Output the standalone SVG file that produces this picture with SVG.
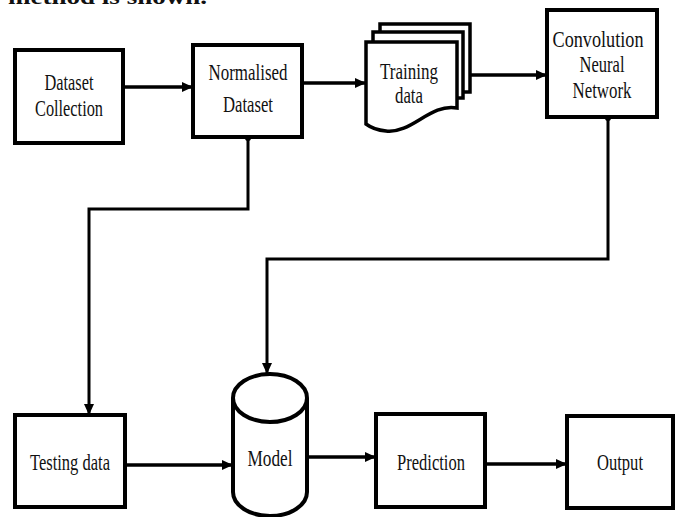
<svg xmlns="http://www.w3.org/2000/svg" width="678" height="517" viewBox="0 0 678 517">
<style>
.box{fill:#fff;stroke:#000;stroke-width:4}
.sheet{fill:#fff;stroke:#000;stroke-width:3.5}
.lbl{font-family:"Liberation Serif","Times New Roman",serif;font-size:23px;fill:#111;text-anchor:middle}
.con{fill:none;stroke:#000;stroke-width:3.5;stroke-linejoin:miter}
.thin{fill:none;stroke:#000;stroke-width:3}
.cap{font-family:"Liberation Serif","Times New Roman",serif;font-size:22px;font-weight:bold;fill:#111}
</style>
<defs>
<marker id="ah" markerUnits="userSpaceOnUse" markerWidth="11" markerHeight="10" refX="11" refY="5" orient="auto">
<path d="M0,0 L11,5 L0,10 Z" fill="#000"/>
</marker>
</defs>
<rect width="678" height="517" fill="#fff"/>
<text class="cap" x="8" y="3.5" textLength="199" lengthAdjust="spacingAndGlyphs">method is shown.</text>

<g id="connectors">
<line class="con" x1="123" y1="87" x2="193" y2="87" marker-end="url(#ah)"/>
<line class="con" x1="302" y1="83" x2="366" y2="83" marker-end="url(#ah)"/>
<line class="con" x1="470" y1="75" x2="547" y2="75" marker-end="url(#ah)"/>
<polyline class="thin" points="248,137 248,209 89,209 89,415" marker-end="url(#ah)"/>
<polyline class="thin" points="608,117 608,259 267,259 267,374" marker-end="url(#ah)"/>
<line class="con" x1="125" y1="465" x2="233" y2="465" marker-end="url(#ah)"/>
<line class="con" x1="308" y1="457" x2="376" y2="457" marker-end="url(#ah)"/>
<line class="con" x1="485" y1="464" x2="567" y2="464" marker-end="url(#ah)"/>
<circle cx="248" cy="138" r="3" fill="#000"/>
<circle cx="608" cy="118" r="3" fill="#000"/>
</g>

<g id="dataset-collection">
<rect class="box" x="15" y="50" width="108" height="93"/>
<text class="lbl" x="69" y="90" textLength="49" lengthAdjust="spacingAndGlyphs">Dataset</text>
<text class="lbl" x="69" y="116" textLength="68" lengthAdjust="spacingAndGlyphs">Collection</text>
</g>

<g id="normalised-dataset">
<rect class="box" x="193" y="45" width="109" height="92"/>
<text class="lbl" x="248" y="80" textLength="79" lengthAdjust="spacingAndGlyphs">Normalised</text>
<text class="lbl" x="248" y="112" textLength="50" lengthAdjust="spacingAndGlyphs">Dataset</text>
</g>

<g id="training-data">
<rect class="sheet" x="380" y="24" width="90" height="68"/>
<rect class="sheet" x="373" y="32" width="90" height="66"/>
<path class="sheet" d="M366,42 H457 V108 C430,103 412,134 386,131 C376,130 370,127 366,124 Z"/>
<text class="lbl" x="409" y="79" textLength="58" lengthAdjust="spacingAndGlyphs">Training</text>
<text class="lbl" x="409" y="103" textLength="28" lengthAdjust="spacingAndGlyphs">data</text>
</g>

<g id="cnn">
<rect class="box" x="547" y="10" width="110" height="107"/>
<text class="lbl" x="598" y="47" textLength="91" lengthAdjust="spacingAndGlyphs">Convolution</text>
<text class="lbl" x="602" y="72" textLength="45" lengthAdjust="spacingAndGlyphs">Neural</text>
<text class="lbl" x="602" y="98" textLength="59" lengthAdjust="spacingAndGlyphs">Network</text>
</g>

<g id="testing-data">
<rect class="box" x="15" y="415" width="110" height="92"/>
<text class="lbl" x="70" y="470" textLength="80" lengthAdjust="spacingAndGlyphs">Testing data</text>
</g>

<g id="model">
<path class="box" d="M233,398 V492 A37,24 0 0 0 307,492 V398 A37,24 0 0 0 233,398 Z"/>
<path fill="none" stroke="#000" stroke-width="4" d="M233,398 A37,24 0 0 0 307,398"/>
<text class="lbl" x="270" y="466" textLength="45" lengthAdjust="spacingAndGlyphs">Model</text>
</g>

<g id="prediction">
<rect class="box" x="376" y="414" width="109" height="93"/>
<text class="lbl" x="431" y="470" textLength="68" lengthAdjust="spacingAndGlyphs">Prediction</text>
</g>

<g id="output">
<rect class="box" x="567" y="416" width="106" height="92"/>
<text class="lbl" x="620" y="470" textLength="46" lengthAdjust="spacingAndGlyphs">Output</text>
</g>
</svg>
